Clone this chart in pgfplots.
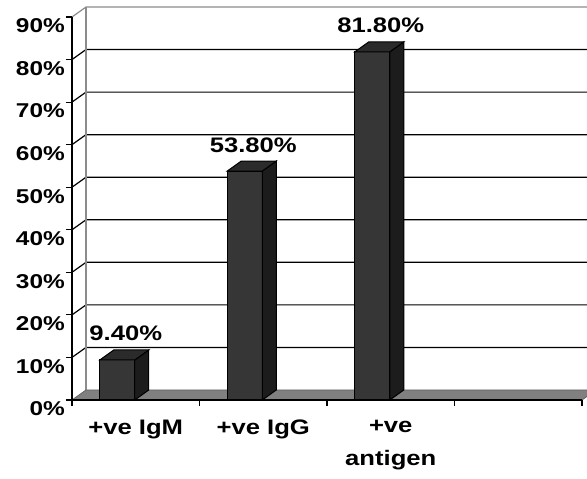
\documentclass[border=0pt]{standalone}
\usepackage{fontspec}
\setmainfont{Liberation Sans}[FakeStretch=1.22]
\usepackage{pgfplots}
\usepackage{pgfplotstable}
\pgfplotsset{compat=1.18}
\definecolor{frontc}{HTML}{363636}
\definecolor{sidec}{HTML}{1C1C1C}
\definecolor{topc}{HTML}{2B2B2B}
\definecolor{floorc}{HTML}{808080}
\definecolor{wallc}{HTML}{8C8C8C}
\pgfplotstableread{
x v
0.5 9.4
1.5 53.8
2.5 81.8
}\bars
\pgfdeclareplotmark{bar3d}{%
  \pgfkeys{/pgf/fpu=true}%
  \pgfmathparse{\barval*4.25556}%
  \pgfmathfloattofixed{\pgfmathresult}%
  \let\hh\pgfmathresult
  \pgfkeys{/pgf/fpu=false}%
  \pgfsetlinewidth{1pt}%
  \pgfsetstrokecolor{black}%
  % side face
  \pgfpathmoveto{\pgfpoint{-1pt}{0pt}}%
  \pgfpathlineto{\pgfpoint{13pt}{10pt}}%
  \pgfpathlineto{\pgfpoint{13pt}{10pt-\hh pt}}%
  \pgfpathlineto{\pgfpoint{-1pt}{-\hh pt}}%
  \pgfpathclose
  \pgfsetfillcolor{sidec}%
  \pgfusepath{fill,stroke}%
  % top face
  \pgfpathmoveto{\pgfpoint{-36pt}{0pt}}%
  \pgfpathlineto{\pgfpoint{-1pt}{0pt}}%
  \pgfpathlineto{\pgfpoint{13pt}{10pt}}%
  \pgfpathlineto{\pgfpoint{-22pt}{10pt}}%
  \pgfpathclose
  \pgfsetfillcolor{topc}%
  \pgfusepath{fill,stroke}%
}
\newcommand\lbl{\fontsize{21}{33}\selectfont\bfseries}
\newcommand\ylbl{\fontsize{20}{24}\selectfont\bfseries}
\begin{document}
\begin{tikzpicture}[x=1pt,y=1pt]
\useasboundingbox (0,0) rectangle (587,479);
% walls and floor (decoration)
\foreach \p in {10,20,...,80}{
  \pgfmathsetmacro\yy{79+\p*4.25556}
  \draw[black, line width=1.2pt] (72,\yy) -- (86,\yy+10) -- (610,\yy+10);
}
\draw[wallc, line width=1.2pt] (72,462) -- (86,472) -- (610,472);
\draw[wallc, line width=1.2pt] (86,89) -- (86,472);
\fill[floorc] (72,79) -- (582,79) -- (596,89) -- (86,89) -- cycle;
\draw[wallc!70!black, line width=0.8pt] (72,79) -- (86,89) -- (596,89) -- (582,79);
\begin{axis}[
  at={(72pt,79pt)}, anchor=south west,
  scale only axis, width=510pt, height=383pt,
  xmin=0, xmax=4, ymin=0, ymax=90,
  axis x line*=bottom, axis y line*=left,
  axis line style={black, line width=1.2pt},
  clip=false,
  xtick={0,1,2,3,4}, xticklabels={},
  ytick={0,10,...,90},
  yticklabels={0\%,10\%,20\%,30\%,40\%,50\%,60\%,70\%,80\%,90\%},
  tick style={black, line width=1.2pt},
  major tick length=6pt,
  tick align=outside,
  yticklabel style={font=\ylbl, anchor=east, inner sep=1pt, yshift=-9pt},
  extra x ticks={0.5,1.5,2.5},
  extra x tick labels={{+ve IgM},{+ve IgG},{+ve\\antigen}},
  extra x tick style={major tick length=0pt,
    tick label style={font=\lbl, align=center, anchor=north, inner sep=1pt, yshift=-19pt}},
]
\addplot[ybar, bar width=35pt, bar shift=-18.5pt, fill=frontc, draw=black, line width=1pt]
  table[x=x, y=v] {\bars};
\addplot[only marks, mark=bar3d,
  visualization depends on={y \as \barval},
  point meta=y,
  nodes near coords={\pgfmathprintnumber[fixed, fixed zerofill, precision=2, assume math mode=true]{\pgfplotspointmeta}\%},
  nodes near coords style={font=\lbl, anchor=base, inner sep=0pt, xshift=-10pt, yshift=19pt, text=black},
] table[x=x, y=v] {\bars};
\end{axis}
\end{tikzpicture}
\end{document}
